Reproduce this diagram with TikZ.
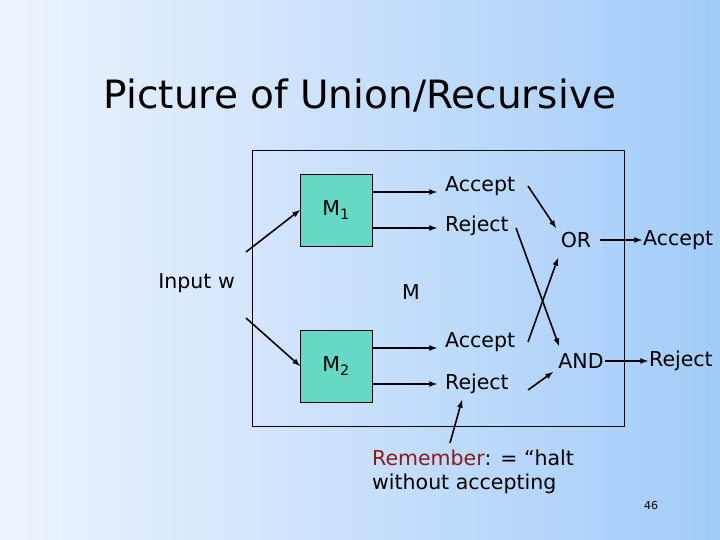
\documentclass[tikz,border=0pt]{standalone}
\usepackage{fontspec}
\setmainfont{DejaVu Sans}
\usetikzlibrary{positioning}
\definecolor{bgleft}{HTML}{EEF4FE}
\definecolor{bgright}{HTML}{A2CCF8}
\definecolor{machine}{HTML}{66D9C6}
\definecolor{remred}{HTML}{8B1A1A}
\tikzset{
  lbl/.style={inner sep=1pt, font=\fontsize{20.5}{24}\selectfont},
  box/.style={draw, fill=machine, minimum width=72pt, minimum height=72pt, inner sep=0pt, font=\fontsize{20.5}{24}\selectfont},
  arr/.style={line width=1.6pt, -latex},
}
\begin{document}
\begin{tikzpicture}[x=1pt,y=-1pt]

    % Background
    \shade[shading angle=135, left color=bgleft, right color=bgright] (0,0) rectangle (720,540);
    \useasboundingbox (0,0) rectangle (720,540);

    % Title
    \node[font=\fontsize{39}{44}\selectfont] (title) at (360,95) {Picture of Union/Recursive};

    % The machine M
    \draw (252,150) rectangle (624,426);
    \node[lbl] (M) at (411,292) {M};

    % Machines M1 and M2
    \node[box] (M1) at (336,210) {M\textsubscript{1}};
    \node[box] (M2) at (336,366) {M\textsubscript{2}};
    \node[lbl, anchor=east] (in) at (236,283) {Input w};
    \coordinate (in1) at (246,252);
    \coordinate (in2) at (246,318);
    \draw[arr] (in1) -- (300,210);
    \draw[arr] (in2) -- (300,366);

    % Outputs of M1 and M2
    \node[lbl, anchor=west] (acc1) at (444,186) {Accept};
    \node[lbl, anchor=west] (rej1) at (444,226) {Reject};
    \node[lbl, anchor=west] (acc2) at (444,342) {Accept};
    \node[lbl, anchor=west] (rej2) at (444,384) {Reject};
    \draw[arr] (M1.east |- 0,192) -- (437,192);
    \draw[arr] (M1.east |- 0,228) -- (437,228);
    \draw[arr] (M2.east |- 0,348) -- (437,348);
    \draw[arr] (M2.east |- 0,384) -- (437,384);

    % OR and AND
    \node[lbl] (or) at (576,240) {OR};
    \node[lbl] (and) at (581,361) {AND};
    \draw[arr] (528,186) -- (556,228);
    \draw[arr] (528,342) -- (558,258);
    \draw[arr] (516,228) -- (559,346);
    \draw[arr] (528,390) -- (553,372);

    % Results
    \node[lbl, anchor=west] (accout) at (642,240) {Accept};
    \node[lbl, anchor=west] (rejout) at (648,361) {Reject};
    \draw[arr] (600,240) -- (accout.west);
    \draw[arr] (and.east) -- (rejout.west);

    % Remark
    \node[lbl, anchor=north west, align=left] (rem) at (371,449)
      {\textcolor{remred}{Remember}: = “halt\\without accepting};
    \coordinate (remtip) at (450,443);
    \draw[arr] (remtip) -- (462,400);
    \node[font=\fontsize{11}{13}\selectfont] (page) at (651,505) {46};

\end{tikzpicture}
\end{document}
